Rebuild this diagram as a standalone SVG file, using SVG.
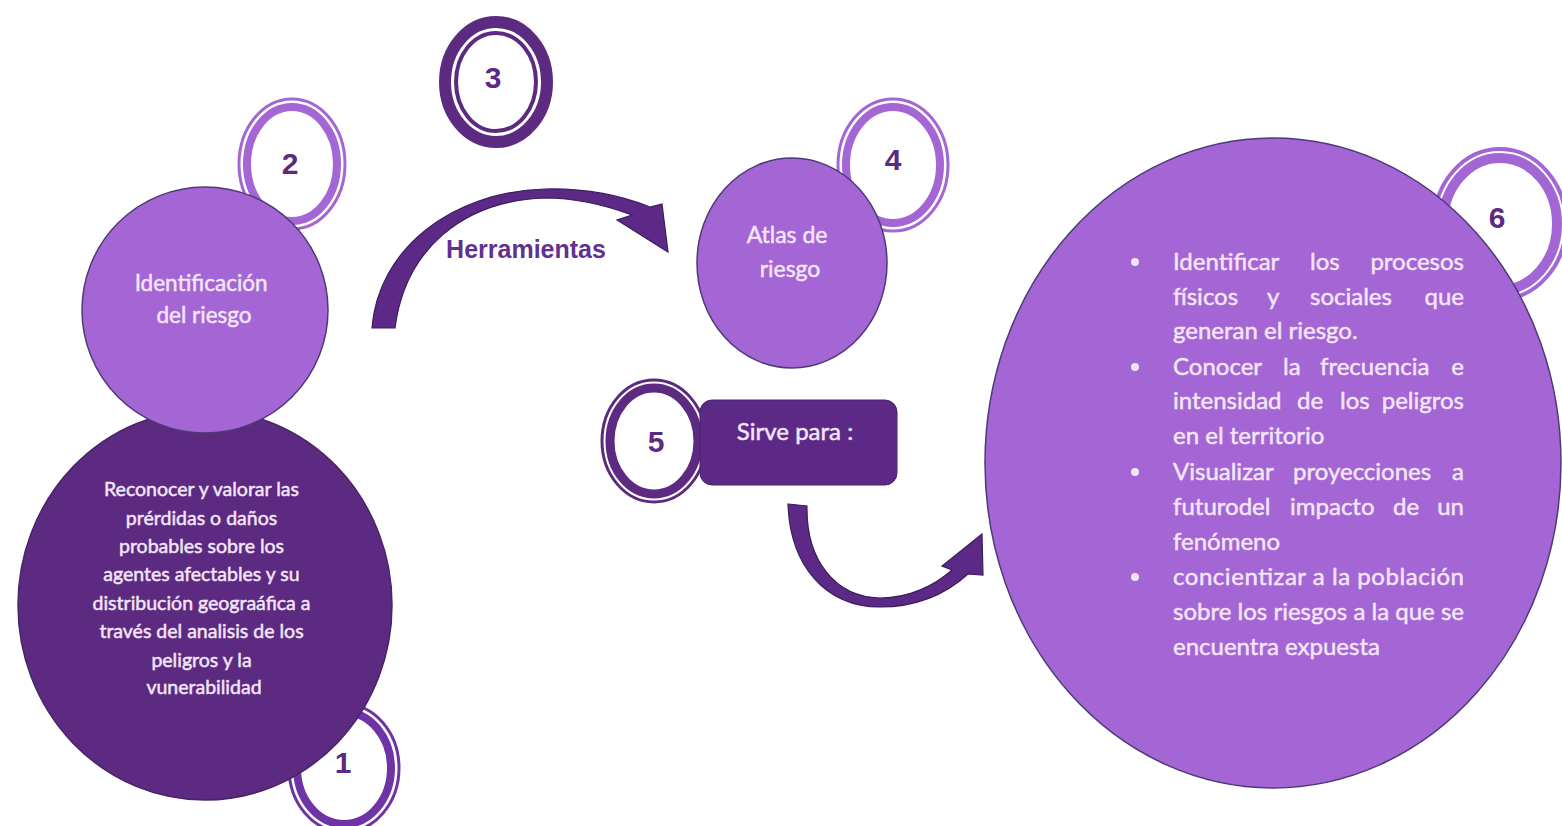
<svg xmlns="http://www.w3.org/2000/svg" width="1562" height="826" viewBox="0 0 1562 826">
<style>
.light{fill:#A366D4;stroke:#4E3A78;stroke-width:1.5}
.dark{fill:#5C2A80;stroke:#4A2468;stroke-width:1.5}
.rl{fill:none;stroke:#A366D4}
.rd{fill:none;stroke:#5C2A80}
.r1{fill:none;stroke:#6E34A6}
.num{font-family:"Liberation Sans",Arial,sans-serif;font-weight:bold;font-size:30px;fill:#5C2A80;text-anchor:middle}
.t{font-family:Lato,"Open Sans",sans-serif;fill:#F3E4F7;stroke:#F3E4F7;stroke-width:0.5}
.c{text-anchor:middle}
.b{font-size:24px}
.e{text-anchor:end}
.arrow{fill:#5C2A86;stroke:#3A1D5C;stroke-width:1.2}
</style>
<rect width="1562" height="826" fill="#FFFFFF"/>

<g id="ring2">
<ellipse cx="292" cy="164" rx="53" ry="65" fill="#FFFFFF" class="rl" stroke-width="3"/>
<ellipse cx="292" cy="164" rx="45" ry="57" class="rl" stroke-width="8"/>
<text class="num" x="290" y="174">2</text>
</g>
<g id="ring3">
<ellipse cx="496" cy="82" rx="51" ry="60" fill="#FFFFFF" class="rd" stroke-width="12"/>
<ellipse cx="496" cy="82" rx="40" ry="49" class="rd" stroke-width="4"/>
<text class="num" x="493" y="88">3</text>
</g>
<g id="ring4">
<ellipse cx="893" cy="165" rx="55" ry="66" fill="#FFFFFF" class="rl" stroke-width="3"/>
<ellipse cx="893" cy="165" rx="47" ry="58" class="rl" stroke-width="8"/>
<text class="num" x="893" y="170">4</text>
</g>
<g id="ring6">
<ellipse cx="1500" cy="224" rx="66" ry="75" fill="#FFFFFF" class="rl" stroke-width="4"/>
<ellipse cx="1500" cy="224" rx="57" ry="66" class="rl" stroke-width="10"/>
<text class="num" x="1497" y="228">6</text>
</g>
<g id="ring1">
<ellipse cx="344" cy="768" rx="55" ry="64" fill="#FFFFFF" class="r1" stroke-width="3"/>
<ellipse cx="344" cy="768" rx="47" ry="56" class="r1" stroke-width="8"/>
<text class="num" x="343" y="773">1</text>
</g>
<g id="ring5">
<ellipse cx="654" cy="441" rx="52" ry="61" fill="#FFFFFF" class="rd" stroke-width="3"/>
<ellipse cx="654" cy="441" rx="44" ry="53" class="rd" stroke-width="9"/>
<text class="num" x="656" y="452">5</text>
</g>

<g id="node-reconocer">
<ellipse class="dark" cx="205" cy="605" rx="187" ry="195"/>
<text class="t c" font-size="19.5">
<tspan x="204" y="496">Reconocer y valorar las</tspan>
<tspan x="204" y="525">prérdidas o daños</tspan>
<tspan x="204" y="553">probables sobre los</tspan>
<tspan x="204" y="581">agentes afectables y su</tspan>
<tspan x="204" y="610">distribución geograáfica a</tspan>
<tspan x="204" y="638">través del analisis de los</tspan>
<tspan x="204" y="667">peligros y la</tspan>
<tspan x="204" y="694">vunerabilidad</tspan>
</text>
</g>

<g id="node-identificacion">
<circle class="light" cx="205" cy="310" r="123"/>
<text class="t c" font-size="22.5">
<tspan x="204" y="291">Identificación</tspan>
<tspan x="204" y="323">del riesgo</tspan>
</text>
</g>

<g id="node-atlas">
<ellipse class="light" cx="792" cy="263" rx="95" ry="105"/>
<text class="t c" font-size="23">
<tspan x="790" y="243">Atlas de</tspan>
<tspan x="790" y="277">riesgo</tspan>
</text>
</g>

<g id="node-sirve">
<rect x="700" y="400" width="197" height="85" rx="12" fill="#5C2A86" stroke="#4A2468" stroke-width="1"/>
<text class="t c" x="795" y="440" font-size="24">Sirve para :</text>
</g>

<g id="node-usos">
<ellipse class="light" cx="1273" cy="463" rx="288" ry="325"/>
<g fill="#F3E4F7">
<circle cx="1135" cy="262" r="4"/>
<circle cx="1135" cy="367" r="4"/>
<circle cx="1135" cy="472" r="4"/>
<circle cx="1135" cy="577" r="4"/>
</g>
<g class="t b">
<text x="1173" y="270">Identificar</text><text x="1310" y="270">los</text><text class="e" x="1464" y="270">procesos</text>
<text x="1173" y="305">físicos</text><text x="1267" y="305">y</text><text x="1310" y="305">sociales</text><text class="e" x="1464" y="305">que</text>
<text x="1173" y="339">generan el riesgo.</text>
<text x="1173" y="375">Conocer</text><text x="1283" y="375">la</text><text x="1320" y="375">frecuencia</text><text class="e" x="1464" y="375">e</text>
<text x="1173" y="409">intensidad</text><text x="1297" y="409">de</text><text x="1340" y="409">los</text><text class="e" x="1464" y="409">peligros</text>
<text x="1173" y="444">en el territorio</text>
<text x="1173" y="480">Visualizar</text><text x="1293" y="480">proyecciones</text><text class="e" x="1464" y="480">a</text>
<text x="1173" y="515">futurodel</text><text x="1290" y="515">impacto</text><text x="1393" y="515">de</text><text class="e" x="1464" y="515">un</text>
<text x="1173" y="550">fenómeno</text>
<text x="1173" y="585" textLength="291" lengthAdjust="spacing">concientizar a la población</text>
<text x="1173" y="620" textLength="291" lengthAdjust="spacing">sobre los riesgos a la que se</text>
<text x="1173" y="655">encuentra expuesta</text>
</g>
</g>

<g id="connectors">
<path class="arrow" d="M 372 328 C 378 250 450 192 545 189 C 590 188 625 197 650 207 L 662 204 L 668 252 L 617 220 L 632 215 C 605 205 575 198 545 198 C 462 201 405 250 395 328 Z"/>
<text x="526" y="258" font-family="'Liberation Sans',Arial,sans-serif" font-weight="bold" font-size="25" fill="#62308F" text-anchor="middle">Herramientas</text>
<path class="arrow" d="M 788 504 L 807 506 C 806 560 835 597 880 598 C 910 598 935 585 952 570 L 942 566 L 982 534 L 983 575 L 968 574 C 945 595 915 607 880 607 C 825 607 790 565 788 504 Z"/>
</g>
</svg>
